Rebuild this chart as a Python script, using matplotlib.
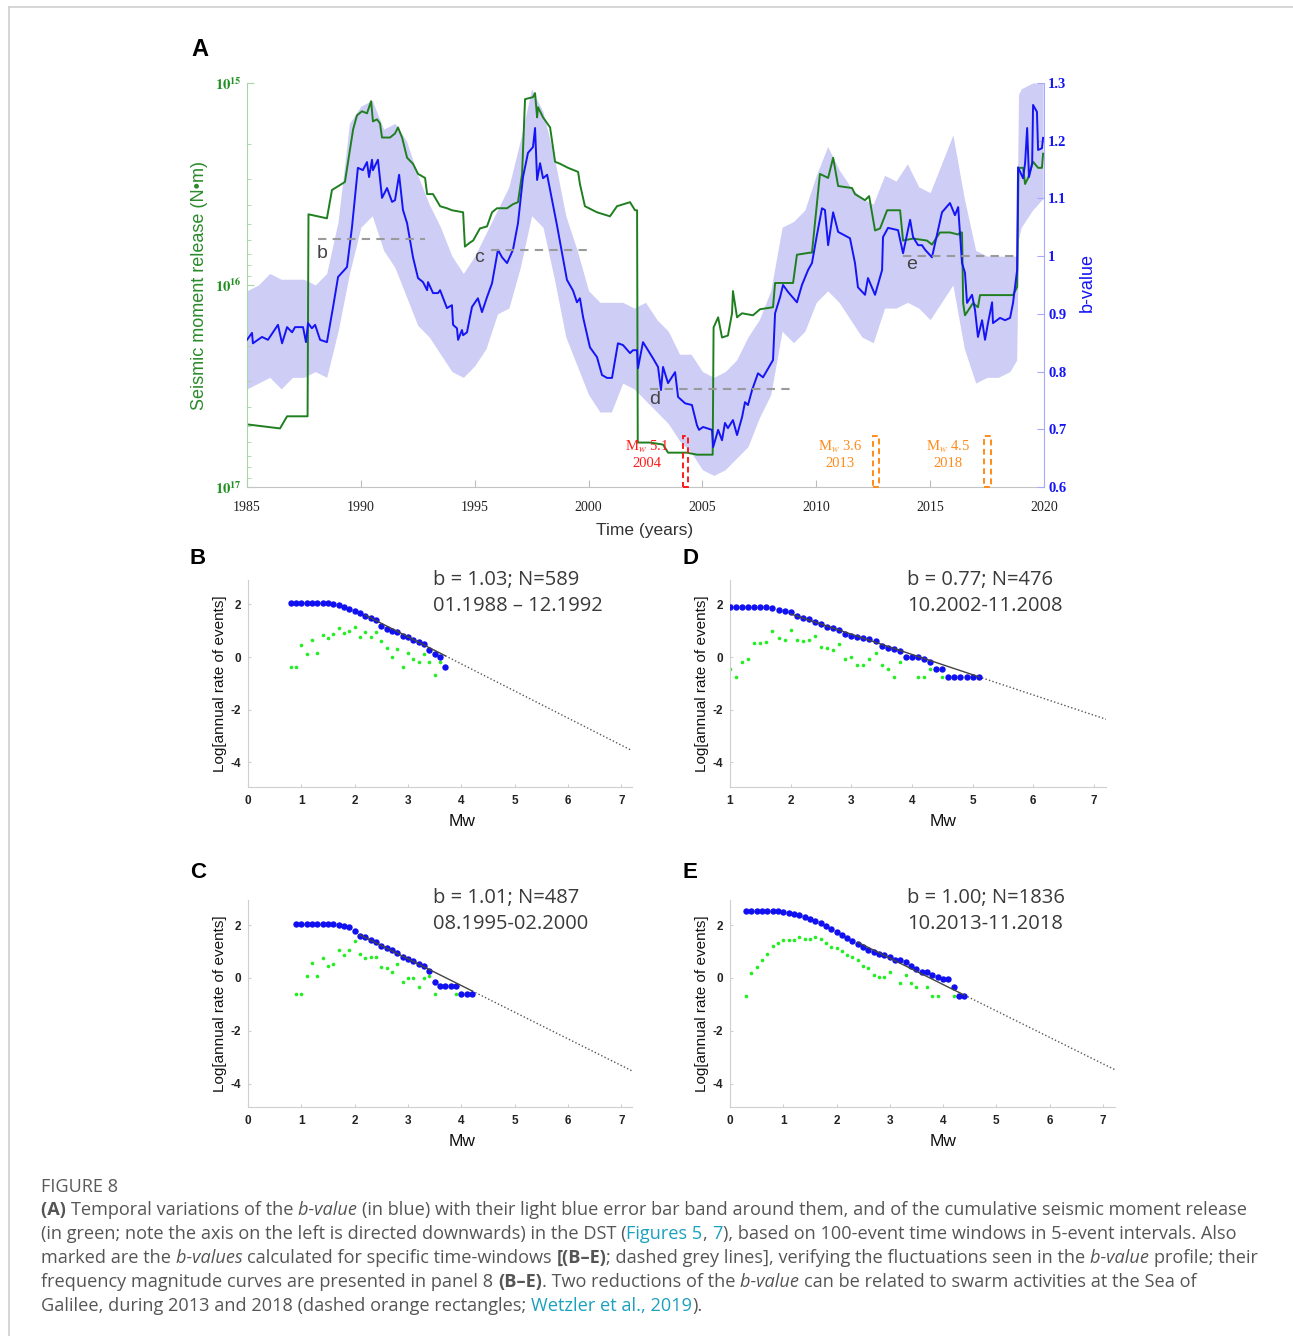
import matplotlib
matplotlib.use('Agg')
import matplotlib.pyplot as plt
import numpy as np
from matplotlib.patches import Rectangle
from matplotlib.lines import Line2D
from matplotlib.ticker import FixedLocator, LogLocator, NullFormatter

plt.rcParams['mathtext.fontset'] = 'stix'
plt.rcParams['font.family'] = ['Liberation Sans', 'DejaVu Sans']
plt.rcParams['axes.unicode_minus'] = False

# ---------------- Panel A data ----------------
b_years = [1985.00,1985.22,1985.26,1985.66,1985.92,1986.36,1986.54,1986.76,1986.98,1987.11,
           1987.46,1987.59,1987.68,1987.85,1987.99,1988.21,1988.51,1988.78,1989.00,1989.39,
           1989.61,1989.87,1990.09,1990.27,1990.36,1990.49,1990.53,1990.75,1990.93,1991.15,
           1991.37,1991.50,1991.68,1991.85,1992.03,1992.29,1992.51,1992.73,1992.91,1992.95,
           1993.17,1993.39,1993.48,1993.78,1994.00,1994.05,1994.22,1994.27,1994.44,1994.49,
           1994.66,1994.88,1995.14,1995.32,1995.54,1995.76,1996.02,1996.20,1996.42,1996.68,
           1996.90,1997.12,1997.34,1997.56,1997.65,1997.74,1997.87,1998.00,1998.18,1998.61,
           1999.05,1999.32,1999.49,1999.62,1999.76,2000.06,2000.37,2000.59,2000.81,2001.03,
           2001.29,2001.51,2001.82,2001.95,2002.13,2002.17,2002.39,2002.83,2003.05,2003.18,
           2003.27,2003.49,2003.80,2003.93,2004.24,2004.54,2004.76,2004.85,2005.03,2005.42,
           2005.47,2005.69,2005.86,2005.99,2006.12,2006.34,2006.52,2006.74,2006.87,2007.00,
           2007.18,2007.44,2007.66,2008.10,2008.19,2008.41,2008.54,2008.76,2009.15,2009.37,
           2009.64,2009.81,2010.03,2010.25,2010.38,2010.52,2010.74,2010.96,2011.48,2011.70,
           2011.83,2012.14,2012.27,2012.58,2012.89,2012.93,2013.15,2013.59,2013.81,2014.12,
           2014.25,2014.47,2014.64,2014.78,2015.08,2015.52,2015.87,2016.09,2016.23,2016.40,
           2016.53,2016.62,2016.84,2016.97,2017.10,2017.28,2017.41,2017.54,2017.72,2017.76,
           2018.07,2018.29,2018.51,2018.64,2018.82,2018.86,2019.08,2019.17,2019.26,2019.34,
           2019.48,2019.52,2019.69,2019.74,2019.91,2019.96]
b_values = [0.855,0.867,0.849,0.860,0.855,0.881,0.849,0.877,0.868,0.877,
            0.877,0.851,0.884,0.875,0.881,0.855,0.851,0.912,0.964,0.981,
            1.050,1.153,1.149,1.163,1.137,1.167,1.149,1.167,1.101,1.118,
            1.094,1.097,1.141,1.080,1.057,0.998,0.962,0.955,0.941,0.955,
            0.936,0.936,0.941,0.910,0.915,0.881,0.875,0.855,0.872,0.863,
            0.868,0.912,0.927,0.903,0.929,0.953,1.011,0.998,0.988,1.011,
            1.057,1.137,1.179,1.189,1.222,1.132,1.161,1.135,1.141,1.054,
            0.959,0.940,0.920,0.927,0.894,0.842,0.825,0.794,0.789,0.789,
            0.849,0.846,0.832,0.837,0.837,0.806,0.851,0.823,0.808,0.768,
            0.808,0.780,0.799,0.756,0.745,0.742,0.707,0.699,0.704,0.699,
            0.669,0.699,0.681,0.711,0.702,0.716,0.690,0.721,0.747,0.742,
            0.768,0.797,0.790,0.820,0.901,0.929,0.950,0.938,0.920,0.950,
            0.976,0.988,1.037,1.083,1.080,1.019,1.076,1.042,1.031,0.988,
            0.946,0.933,0.962,0.933,0.976,1.033,1.049,1.045,1.005,1.063,
            1.033,1.019,1.019,1.011,0.998,1.076,1.092,1.071,1.085,0.988,
            0.971,0.919,0.933,0.907,0.860,0.889,0.855,0.884,0.920,0.884,
            0.893,0.889,0.893,0.919,0.976,1.154,1.135,1.161,1.222,1.137,
            1.161,1.262,1.250,1.184,1.187,1.205]

band_years = [1985.0,1985.5,1986.0,1986.5,1987.0,1987.5,1988.0,1988.5,1989.0,1989.5,
              1990.0,1990.5,1991.0,1991.5,1992.0,1992.5,1993.0,1993.5,1994.0,1994.5,
              1995.0,1995.5,1996.0,1996.5,1997.0,1997.5,1998.0,1998.5,1999.0,1999.5,
              2000.0,2000.5,2001.0,2001.5,2002.0,2002.5,2003.0,2003.5,2004.0,2004.5,
              2005.0,2005.5,2006.0,2006.5,2007.0,2007.5,2008.0,2008.5,2009.0,2009.5,
              2010.0,2010.5,2011.0,2011.5,2012.0,2012.5,2013.0,2013.5,2014.0,2014.5,
              2015.0,2015.5,2016.0,2016.5,2017.0,2017.5,2018.0,2018.5,2018.8,2018.88,
              2019.0,2019.5,2019.96]
band_upper = [0.94,0.95,0.97,0.96,0.96,0.96,0.95,0.97,1.06,1.23,
              1.26,1.27,1.22,1.23,1.20,1.14,1.09,1.05,1.00,0.97,
              1.00,1.04,1.08,1.12,1.20,1.29,1.25,1.17,1.07,1.01,
              0.94,0.92,0.92,0.92,0.91,0.92,0.89,0.87,0.83,0.83,
              0.80,0.79,0.80,0.82,0.86,0.89,0.94,1.05,1.06,1.08,
              1.14,1.19,1.15,1.12,1.10,1.09,1.14,1.13,1.16,1.12,
              1.11,1.16,1.21,1.10,1.01,1.00,1.00,1.00,1.00,1.28,
              1.29,1.30,1.30]
band_lower = [0.77,0.78,0.79,0.77,0.79,0.79,0.80,0.79,0.87,0.97,
              1.05,1.07,1.01,0.98,0.93,0.88,0.86,0.83,0.80,0.79,
              0.81,0.84,0.90,0.91,0.98,1.07,1.05,0.96,0.86,0.81,
              0.76,0.73,0.73,0.78,0.77,0.75,0.73,0.71,0.68,0.66,
              0.63,0.62,0.63,0.65,0.67,0.72,0.76,0.87,0.85,0.87,
              0.92,0.94,0.92,0.89,0.86,0.85,0.91,0.91,0.92,0.91,
              0.89,0.92,0.95,0.84,0.78,0.79,0.79,0.80,0.82,1.03,
              1.05,1.08,1.10]

moment_years = [1985.00,1986.45,1986.76,1987.66,1987.70,1988.51,1988.73,1989.30,1989.66,1989.83,
                1990.05,1990.27,1990.45,1990.53,1990.71,1990.84,1990.93,1991.28,1991.50,1991.63,
                1991.81,1992.03,1992.29,1992.51,1992.82,1992.91,1993.17,1993.48,1993.78,1994.00,
                1994.49,1994.57,1994.79,1994.93,1995.23,1995.54,1995.76,1995.98,1996.42,1996.68,
                1996.90,1997.08,1997.21,1997.56,1997.65,1997.74,1997.78,1998.00,1998.31,1998.53,
                1998.75,1999.10,1999.54,1999.62,1999.84,2000.37,2000.94,2001.25,2001.82,2002.04,
                2002.13,2002.16,2002.70,2003.27,2003.49,2004.32,2004.76,2005.45,2005.49,2005.69,
                2005.86,2006.12,2006.30,2006.34,2006.52,2006.74,2007.22,2007.53,2008.10,2008.19,
                2008.98,2009.15,2009.72,2009.81,2010.16,2010.52,2010.74,2010.96,2011.57,2011.70,
                2012.14,2012.32,2012.58,2012.80,2013.11,2013.68,2013.81,2014.25,2014.86,2015.08,
                2015.43,2015.87,2016.23,2016.31,2016.40,2016.45,2016.53,2016.88,2017.10,2017.19,
                2017.76,2018.64,2018.82,2018.88,2019.08,2019.17,2019.30,2019.52,2019.74,2019.91,
                2019.96]
moment_log10 = [16.69,16.71,16.65,16.65,15.65,15.67,15.53,15.49,15.23,15.16,
                15.14,15.15,15.09,15.19,15.18,15.20,15.27,15.27,15.25,15.22,
                15.27,15.37,15.40,15.45,15.47,15.55,15.55,15.61,15.62,15.63,
                15.64,15.81,15.79,15.78,15.72,15.71,15.64,15.62,15.62,15.60,
                15.59,15.45,15.08,15.07,15.05,15.17,15.12,15.17,15.22,15.39,
                15.40,15.42,15.44,15.50,15.61,15.64,15.66,15.61,15.59,15.63,
                15.63,16.78,16.78,16.79,16.83,16.83,16.84,16.84,16.21,16.16,
                16.26,16.25,16.14,16.03,16.16,16.14,16.15,16.12,16.11,15.99,
                15.99,15.85,15.84,15.84,15.45,15.47,15.37,15.51,15.52,15.55,
                15.58,15.56,15.73,15.72,15.63,15.63,15.78,15.77,15.78,15.80,
                15.74,15.74,15.75,15.74,15.74,16.09,16.15,16.09,16.11,16.05,
                16.05,16.05,16.01,15.42,15.42,15.50,15.47,15.39,15.42,15.42,
                15.35]

# b-value windows (dashed grey lines)
win_labels = ['b', 'c', 'd', 'e']
win_start = [1988.1, 1995.7, 2002.7, 2013.8]
win_end = [1992.8, 2000.2, 2009.0, 2018.8]
win_b = [1.03, 1.01, 0.77, 1.00]

# earthquakes / swarms
eq_labels = ['M$_w$ 5.1\n2004', 'M$_w$ 3.6\n2013', 'M$_w$ 4.5\n2018']
eq_start = [2004.15, 2012.50, 2017.37]
eq_end = [2004.37, 2012.76, 2017.67]
eq_colors = ['#ff1a1a', '#ff8a1a', '#ff8a1a']

# ---------------- Panels B-E data ----------------
B_mw = [round(0.8 + 0.1 * i, 1) for i in range(30)]
B_cum = [2.07,2.07,2.07,2.07,2.06,2.06,2.05,2.04,2.02,1.97,1.89,1.83,1.75,1.66,1.58,
         1.50,1.41,1.19,1.08,0.99,0.94,0.81,0.77,0.65,0.57,0.49,0.27,0.11,0.01,-0.37]
B_inc = [-0.37,-0.37,0.46,0.10,0.65,0.16,0.84,0.74,0.87,1.11,0.92,0.99,1.15,0.75,0.96,
         0.75,0.96,0.61,0.36,0.01,0.31,-0.37,0.16,-0.08,-0.20,0.11,-0.20,-0.69,-0.20,-0.37]

D_mw = [round(1.0 + 0.1 * i, 1) for i in range(42)]
D_cum = [1.89,1.89,1.89,1.89,1.89,1.89,1.89,1.86,1.80,1.75,1.70,1.56,1.50,1.43,1.34,
         1.24,1.15,1.09,1.03,0.86,0.81,0.75,0.71,0.67,0.61,0.43,0.35,0.29,0.24,0.01,
         0.01,0.00,-0.08,-0.18,-0.47,-0.47,-0.77,-0.77,-0.77,-0.77,-0.77,-0.77]
D_inc = [-0.47,-0.77,-0.18,-0.08,0.52,0.52,0.58,0.99,0.74,0.65,1.03,0.65,0.61,0.65,0.81,
         0.39,0.33,0.27,0.49,-0.08,0.01,-0.30,-0.30,-0.08,0.14,-0.30,-0.47,-0.77,-0.18,np.nan,
         np.nan,-0.77,-0.77,-0.47,np.nan,-0.77,np.nan,np.nan,np.nan,np.nan,np.nan,-0.77]

C_mw = [round(0.9 + 0.1 * i, 1) for i in range(34)]
C_cum = [2.03,2.03,2.03,2.03,2.03,2.03,2.03,2.03,2.00,1.98,1.91,1.79,1.60,1.53,1.44,
         1.35,1.19,1.12,1.04,0.96,0.78,0.72,0.64,0.53,0.45,0.26,-0.14,-0.30,-0.30,-0.30,
         -0.30,-0.62,-0.62,-0.62]
C_inc = [-0.62,-0.62,0.07,0.58,0.07,0.74,0.45,0.53,1.04,0.87,1.06,1.38,0.90,0.77,0.81,
         0.81,0.43,0.36,0.21,0.53,-0.14,-0.01,-0.01,-0.33,-0.01,0.09,-0.62,np.nan,np.nan,np.nan,
         -0.62,np.nan,np.nan,-0.62]

E_mw = [round(0.3 + 0.1 * i, 1) for i in range(42)]
E_cum = [2.55,2.55,2.55,2.55,2.55,2.55,2.53,2.51,2.47,2.42,2.37,2.30,2.22,2.16,2.07,
         1.97,1.86,1.75,1.63,1.50,1.40,1.29,1.16,1.06,0.97,0.91,0.85,0.78,0.67,0.67,
         0.62,0.45,0.33,0.24,0.24,0.11,0.05,-0.05,-0.05,-0.35,-0.67,-0.67]
E_inc = [-0.67,0.18,0.43,0.68,0.91,1.19,1.31,1.44,1.44,1.44,1.53,1.48,1.46,1.53,1.46,
         1.34,1.16,1.12,1.00,0.87,0.81,0.66,0.45,0.36,0.11,0.02,0.02,0.24,np.nan,-0.20,
         0.11,-0.20,-0.35,np.nan,-0.35,-0.67,-0.67,np.nan,np.nan,-0.67,np.nan,-0.67]

fmd_b = {'B': 1.03, 'C': 1.01, 'D': 0.77, 'E': 1.00}
fmd_a = {'B': 3.86, 'C': 3.75, 'D': 3.18, 'E': 3.75}
fmd_mc = {'B': 2.2, 'C': 2.1, 'D': 2.0, 'E': 2.4}
fmd_text = {'B': ('b = 1.03; N=589', '01.1988 \u2013 12.1992'),
            'C': ('b = 1.01; N=487', '08.1995-02.2000'),
            'D': ('b = 0.77; N=476', '10.2002-11.2008'),
            'E': ('b = 1.00; N=1836', '10.2013-11.2018')}

year_ticks = [1985, 1990, 1995, 2000, 2005, 2010, 2015, 2020]
b_ticks = [0.6, 0.7, 0.8, 0.9, 1.0, 1.1, 1.2, 1.3]
b_tick_labels = ['0.6', '0.7', '0.8', '0.9', '1', '1.1', '1.2', '1.3']

# ---------------- Figure ----------------
W, H = 1293, 1336
fig = plt.figure(figsize=(W / 100, H / 100), dpi=100)


def box(l, t, r, b):
    return [l / W, 1 - b / H, (r - l) / W, (b - t) / H]


def fx(px):
    return px / W


def fy(py):
    return 1 - py / H


# border
fig.add_artist(Line2D([fx(9), 1], [fy(7), fy(7)], color='#cfcfcf', lw=1.2))
fig.add_artist(Line2D([fx(9), fx(9)], [fy(7), 0], color='#cfcfcf', lw=1.2))

GREEN = '#1f7f1f'
BLUE = '#1414f5'
serif = ['Liberation Serif', 'DejaVu Serif']

axg = fig.add_axes(box(247, 83, 1044, 487))
axb = axg.twinx()
axg.set_yscale('log')
axg.set_xlim(1985, 2020)
axg.set_ylim(1e17, 1e15)
axb.set_ylim(0.6, 1.3)

axg.fill_between(band_years, band_lower, band_upper, transform=axb.transData,
                 color='#cdcdf6', lw=0, zorder=1)
axg.plot(moment_years, 10 ** np.array(moment_log10), color=GREEN, lw=1.4, zorder=2)
axb.plot(b_years, b_values, color=BLUE, lw=1.4, zorder=3)

for lab, x0, x1, bv in zip(win_labels, win_start, win_end, win_b):
    axb.plot([x0, x1], [bv, bv], color='#9a9a9a', lw=1.5, dashes=(4, 3), zorder=4)
label_pos = {'b': (1988.3, 1.005), 'c': (1995.2, 0.998), 'd': (2002.9, 0.752), 'e': (2014.2, 0.985)}
for lab in win_labels:
    x, y = label_pos[lab]
    axb.text(x, y, lab, fontsize=14, color='#444444', ha='center', va='center', zorder=5)

eq_text_x = [2002.57, 2011.04, 2015.79]
for lab, x0, x1, col, tx in zip(eq_labels, eq_start, eq_end, eq_colors, eq_text_x):
    axb.add_patch(Rectangle((x0, 0.6), x1 - x0, 0.088, fill=False, ec=col, lw=1.4,
                            ls=(0, (3, 2)), zorder=6, clip_on=False))
    axb.text(tx, 0.657, lab, color=col, fontsize=10.5, family=serif, ha='center', va='center',
             linespacing=1.2, zorder=6)

for sp in ['top']:
    axg.spines[sp].set_visible(False)
    axb.spines[sp].set_visible(False)
axg.spines['right'].set_visible(False)
axb.spines['left'].set_visible(False)
axb.spines['bottom'].set_visible(False)
axg.spines['left'].set_color('#a6d6a6')
axg.spines['bottom'].set_color('#c4c4c4')
axb.spines['right'].set_color('#a8a8ff')

axg.set_xticks(year_ticks)
axg.set_xticklabels([str(y) for y in year_ticks], family=serif, fontsize=10, color='#222222')
axg.tick_params(axis='x', direction='in', length=5, color='#bdbdbd', pad=10)
axg.yaxis.set_major_locator(FixedLocator([1e15, 1e16, 1e17]))
axg.yaxis.set_minor_locator(LogLocator(base=10, subs=np.arange(2, 10)))
axg.yaxis.set_minor_formatter(NullFormatter())
axg.set_yticklabels([r'$\mathbf{10^{15}}$', r'$\mathbf{10^{16}}$', r'$\mathbf{10^{17}}$'],
                    fontsize=10.5, color='#1f8f1f')
axg.tick_params(axis='y', which='both', direction='in', color='#a6d6a6', length=5, pad=4)
axg.tick_params(axis='y', which='minor', length=3)
axb.set_yticks(b_ticks)
axb.set_yticklabels(b_tick_labels, family=serif, fontsize=10.5, fontweight='bold', color=BLUE)
axb.tick_params(axis='y', direction='in', color='#a8a8ff', length=5, pad=3)

fig.text(fx(199), fy(285), 'Seismic moment release (N\u2022m)', rotation=90, color='#2a8a2a',
         fontsize=13, ha='center', va='center')
fig.text(fx(1087), fy(283), 'b-value', rotation=90, color=BLUE, fontsize=13,
         ha='center', va='center')
fig.text(fx(645), fy(530), 'Time (years)', color='#333333', fontsize=12.5,
         ha='center', va='center')
fig.text(fx(200), fy(50), 'A', fontsize=17, fontweight='bold', ha='center', va='center')

# ---------------- FMD panels ----------------
panel_boxes = {'B': (248, 580, 632, 787), 'D': (730, 580, 1106, 787),
               'C': (248, 900, 632, 1107), 'E': (730, 900, 1115, 1107)}
panel_xlim = {'B': (0, 7.2), 'D': (1, 7.2), 'C': (0, 7.2), 'E': (0, 7.23)}
panel_ylim = {'B': (-4.94, 2.93), 'D': (-4.94, 2.93), 'C': (-4.89, 2.95), 'E': (-4.89, 2.95)}
panel_data = {'B': (B_mw, B_cum, B_inc), 'C': (C_mw, C_cum, C_inc),
              'D': (D_mw, D_cum, D_inc), 'E': (E_mw, E_cum, E_inc)}
letter_pos = {'B': (198, 558), 'D': (691, 558), 'C': (198, 872), 'E': (690, 872)}

for key in ['B', 'C', 'D', 'E']:
    l, t, r, b = panel_boxes[key]
    ax = fig.add_axes(box(l, t, r, b))
    mw, cum, inc = panel_data[key]
    xmin, xmax = panel_xlim[key]
    ax.set_xlim(xmin, xmax)
    ax.set_ylim(*panel_ylim[key])
    bv, av, mc = fmd_b[key], fmd_a[key], fmd_mc[key]
    mmax = mw[-1]
    ax.plot([mmax, xmax], [av - bv * mmax, av - bv * xmax], color='#555555', lw=1.0,
            ls=(0, (1, 1.6)), zorder=1)
    ax.plot(mw, inc, ls='none', marker='o', ms=2.6, mfc='#22ee22', mec='none', zorder=2)
    ax.plot(mw, cum, ls='none', marker='o', ms=4.6, mfc='#1010f0', mec='none', zorder=3)
    ax.plot([mc, mmax], [av - bv * mc, av - bv * mmax], color='#444444', lw=1.0, zorder=4)
    for sp in ['top', 'right']:
        ax.spines[sp].set_visible(False)
    for sp in ['left', 'bottom']:
        ax.spines[sp].set_color('#cfcfcf')
    ax.set_xticks(list(range(int(np.ceil(xmin)), 8)))
    ax.set_yticks([-4, -2, 0, 2])
    ax.tick_params(direction='in', length=2, color='#cfcfcf', labelsize=8.5,
                   labelcolor='#222222', pad=6)
    ax.tick_params(axis='y', pad=5)
    for lbl in ax.get_xticklabels() + ax.get_yticklabels():
        lbl.set_fontweight('bold')
    t1, t2 = fmd_text[key]
    tx = 433 if key in ('B', 'C') else 907
    ty = 580 if key in ('B', 'D') else 898
    fig.text(fx(tx), fy(ty), t1, fontsize=14.5, family=['Open Sans', 'DejaVu Sans'],
             color='#3a3a3a', ha='left', va='center')
    fig.text(fx(tx), fy(ty + 26), t2, fontsize=14.5, family=['Open Sans', 'DejaVu Sans'],
             color='#3a3a3a', ha='left', va='center')
    ylx = 220 if key in ('B', 'C') else 702
    yly = 684 if key in ('B', 'D') else 1004
    fig.text(fx(ylx), fy(yly), 'Log[annual rate of events]', rotation=90, fontsize=11,
             ha='center', va='center', color='#111111')
    mx = 462 if key in ('B', 'C') else 943
    my = 822 if key in ('B', 'D') else 1142
    fig.text(fx(mx), fy(my), 'Mw', fontsize=12.5, ha='center', va='center', color='#111111')
    lx, ly = letter_pos[key]
    fig.text(fx(lx), fy(ly), key, fontsize=16, fontweight='bold', ha='center', va='center')

# ---------------- Caption ----------------
renderer = fig.canvas.get_renderer()
CAP_FONT = ['Open Sans', 'DejaVu Sans']
CAP_COL = '#555555'
LINK_COL = '#1ba0bd'

caption_lines = [
    [("(A) ", 'b'), ("Temporal variations of the ", 'n'), ("b-value ", 'i'),
     ("(in blue) with their light blue error bar band around them, and of the cumulative seismic moment release", 'n')],
    [("(in green; note the axis on the left is directed downwards) in the DST (", 'n'), ("Figures 5", 'l'),
     (", ", 'n'), ("7", 'l'), ("), based on 100-event time windows in 5-event intervals. Also", 'n')],
    [("marked are the ", 'n'), ("b-values ", 'i'), ("calculated for specific time-windows ", 'n'),
     ("[(B\u2013E)", 'b'), ("; dashed grey lines], verifying the fluctuations seen in the ", 'n'),
     ("b-value ", 'i'), ("profile; their", 'n')],
    [("frequency magnitude curves are presented in panel 8 ", 'n'), ("(B\u2013E)", 'b'),
     (". Two reductions of the ", 'n'), ("b-value ", 'i'),
     ("can be related to swarm activities at the Sea of", 'n')],
    [("Galilee, during 2013 and 2018 (dashed orange rectangles; ", 'n'), ("Wetzler et al., 2019", 'l'),
     (").", 'n')],
]


def style_kw(st, fs):
    kw = dict(fontsize=fs, family=CAP_FONT, color=CAP_COL)
    if st == 'b':
        kw['fontweight'] = 'bold'
    if st == 'i':
        kw['fontstyle'] = 'italic'
    if st == 'l':
        kw['color'] = LINK_COL
    return kw


def seg_width(txt, st, fs):
    t1 = fig.text(0, 0, txt + '|', **style_kw(st, fs))
    t2 = fig.text(0, 0, '|', **style_kw(st, fs))
    w = t1.get_window_extent(renderer).width - t2.get_window_extent(renderer).width
    t1.remove()
    t2.remove()
    return w


base_fs = 10.0
widest = max(sum(seg_width(s, st, base_fs) for s, st in segs) for segs in caption_lines)
cap_fs = base_fs * (1262 - 41) / widest

fig.text(fx(41), fy(1192), 'FIGURE 8', fontsize=cap_fs, family=CAP_FONT, color='#5a5a5a',
         ha='left', va='baseline')
for i, segs in enumerate(caption_lines):
    x = 41
    y = 1215 + 24 * i
    for s, st in segs:
        fig.text(fx(x), fy(y), s, ha='left', va='baseline', **style_kw(st, cap_fs))
        x += seg_width(s, st, cap_fs)

fig.savefig('out.png', dpi=100)
